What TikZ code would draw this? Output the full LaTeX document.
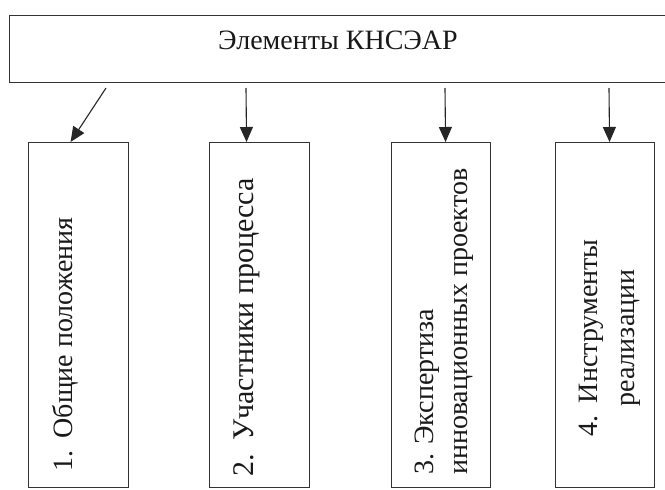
\documentclass[tikz,border=0pt]{standalone}
\usepackage{fontspec}
\setmainfont{Liberation Serif}
\usetikzlibrary{arrows.meta}
\begin{document}
\begin{tikzpicture}[x=1pt,y=-1pt,
  frame/.style={draw=black!80, line width=1.1pt, inner sep=0pt, anchor=north west},
  conn/.style={draw=black!85, line width=1.1pt, -{Triangle[length=15pt,width=13pt]}},
  txt/.style={font=\fontsize{28}{32}\selectfont, inner sep=0pt, text=black!90},
  lbl/.style={txt, rotate=90},
]
\useasboundingbox[fill=white] (0,0) rectangle (665,490);
% top box
\node[frame, minimum width=660pt, minimum height=67pt] (top) at (9,15) {};
\node[txt, anchor=base] (title) at (338,49) {Элементы КНСЭАР};
% lower boxes
\node[frame, minimum width=100pt, minimum height=345pt] (b1) at (28,142) {};
\node[frame, minimum width=100pt, minimum height=345pt] (b2) at (209,142) {};
\node[frame, minimum width=99pt, minimum height=345pt] (b3) at (391,142) {};
\node[frame, minimum width=99pt, minimum height=345pt] (b4) at (555,142) {};
% labels
\node[lbl, anchor=base west] (t1) at (72,472) {1.\hspace{0.45em}Общие положения};
\node[lbl, anchor=base west, font=\fontsize{30}{34}\selectfont] (t2) at (253,477) {2.\hspace{0.45em}Участники процесса};
\node[lbl, anchor=base west] (t3a) at (433,475) {3. Экспертиза};
\node[lbl, anchor=base west] (t3b) at (467,475) {инновационных проектов};
\node[lbl, anchor=base] (t4a) at (597,338) {4.\hspace{0.45em}Инструменты};
\node[lbl, anchor=base] (t4b) at (634,338) {реализации};
% connectors
\coordinate (s1) at (106,88);
\coordinate (s2) at (246,88);
\coordinate (s3) at (445,88);
\coordinate (s4) at (609,88);
\draw[conn] (s1) -- ([xshift=-8pt]b1.north);
\draw[conn] (s2) -- ([xshift=-13pt]b2.north);
\draw[conn] (s3) -- ([xshift=4.5pt]b3.north);
\draw[conn] (s4) -- ([xshift=4.5pt]b4.north);
\end{tikzpicture}
\end{document}
